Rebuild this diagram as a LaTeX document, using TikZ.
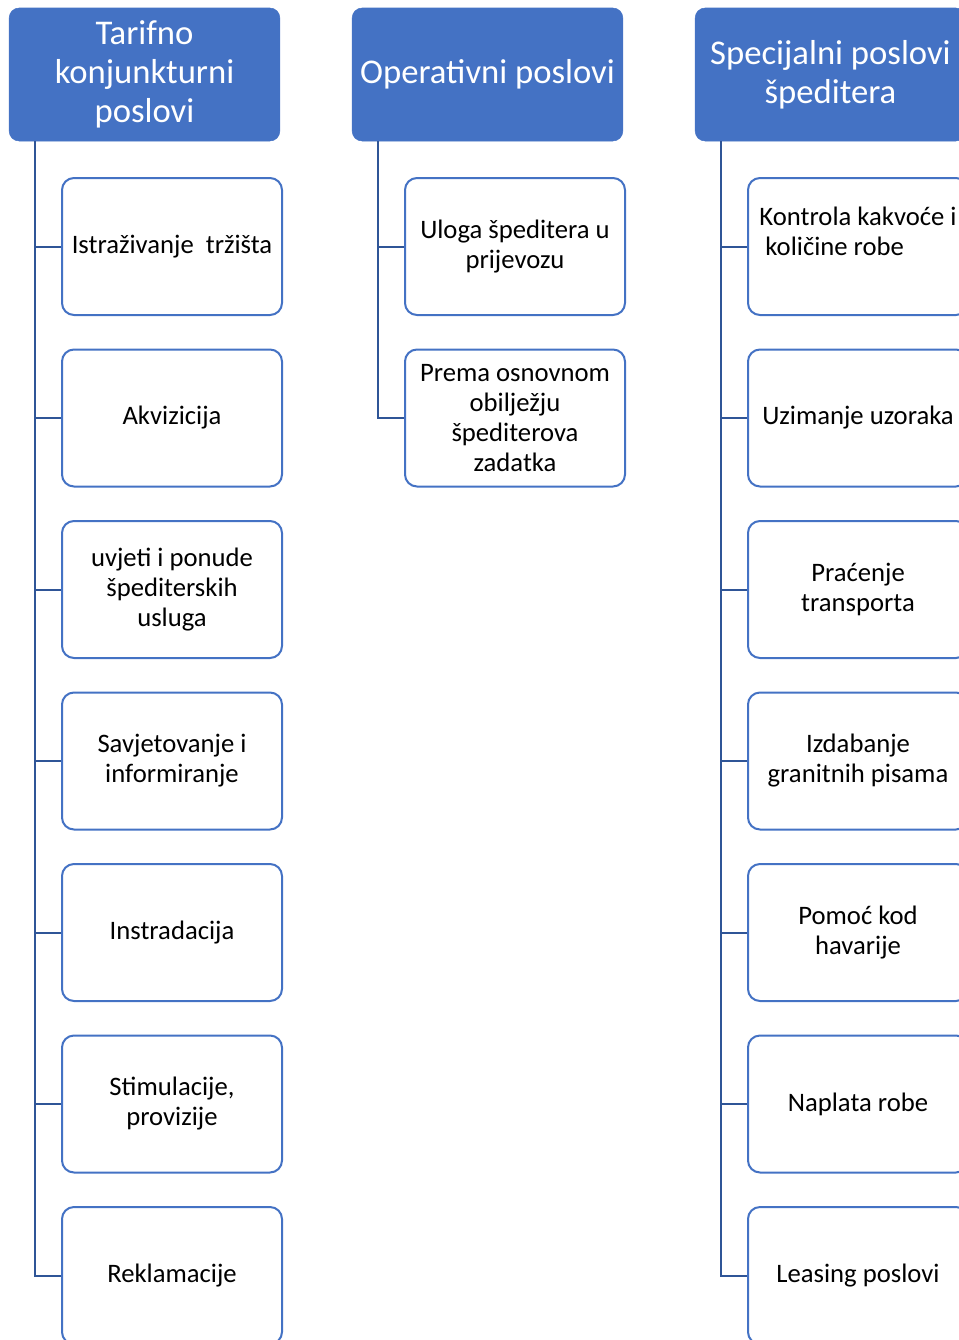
\documentclass[tikz,border=0pt]{standalone}
\usepackage{fontspec}
\setmainfont{Carlito}
\usetikzlibrary{calc}
\definecolor{hdrblue}{HTML}{4472C4}
\definecolor{linkblue}{HTML}{2F5597}

\begin{document}
\begin{tikzpicture}[x=0.75pt,y=-0.75pt,
	header/.style={draw=hdrblue,fill=hdrblue,text=white,rounded corners=7.5pt,
		minimum width=203pt,minimum height=99.75pt,inner sep=0pt,align=center,
		font=\fontsize{26}{29}\selectfont},
	task/.style={draw=hdrblue,line width=1.5pt,fill=white,rounded corners=9pt,
		minimum width=165pt,minimum height=102.75pt,inner sep=0pt,align=center,
		font=\fontsize{20}{22.5}\selectfont},
	link/.style={draw=linkblue,line width=1.5pt}]
	\useasboundingbox (0,0) rectangle (959,1340);
	\clip (0,0) rectangle (959,1340);
	% headers
	\node[header] (tar) at (144.5,74.5) {Tarifno\\konjunkturni\\poslovi};
	\node[header] (ope) at (487.5,74.5) {Operativni poslovi};
	\node[header] (spe) at (830.5,74.5) {Specijalni poslovi\\špeditera};
	% tarifno konjunkturni
	\node[task] (tar1) at (172,246.5) {Istraživanje~ tržišta};
	\node[task] (tar2) at (172,418) {Akvizicija};
	\node[task] (tar3) at (172,589.5) {uvjeti i ponude\\špediterskih\\usluga};
	\node[task] (tar4) at (172,761) {Savjetovanje i\\informiranje};
	\node[task] (tar5) at (172,932.5) {Instradacija};
	\node[task] (tar6) at (172,1104) {Stimulacije,\\provizije};
	\node[task] (tar7) at (172,1275.5) {Reklamacije};
	% operativni
	\node[task] (ope1) at (515,246.5) {Uloga špeditera u\\prijevozu};
	\node[task] (ope2) at (515,418) {Prema osnovnom\\obilježju\\špediterova\\zadatka};
	% specijalni
	\node[task,align=left] (spe1) at (858,246.5) {Kontrola kakvoće i\\\ količine robe\\\mbox{}};
	\node[task] (spe2) at (858,418) {Uzimanje uzoraka};
	\node[task] (spe3) at (858,589.5) {Praćenje\\transporta};
	\node[task] (spe4) at (858,761) {Izdabanje\\granitnih pisama};
	\node[task] (spe5) at (858,932.5) {Pomoć kod\\havarije};
	\node[task] (spe6) at (858,1104) {Naplata robe};
	\node[task] (spe7) at (858,1275.5) {Leasing poslovi};
	% connectors
	\coordinate (tarT) at ($(tar.south west)+(26,0)$);
	\coordinate (opeT) at ($(ope.south west)+(26,0)$);
	\coordinate (speT) at ($(spe.south west)+(26,0)$);
	\draw[link] (tarT) |- (tar7.west);
	\draw[link] (opeT) |- (ope2.west);
	\draw[link] (speT) |- (spe7.west);
	\foreach \k in {1,...,6} {
		\draw[link] (tar\k.west) -- (tar\k.west -| tarT);
		\draw[link] (spe\k.west) -- (spe\k.west -| speT);
	}
	\draw[link] (ope1.west) -- (ope1.west -| opeT);
\end{tikzpicture}
\end{document}
